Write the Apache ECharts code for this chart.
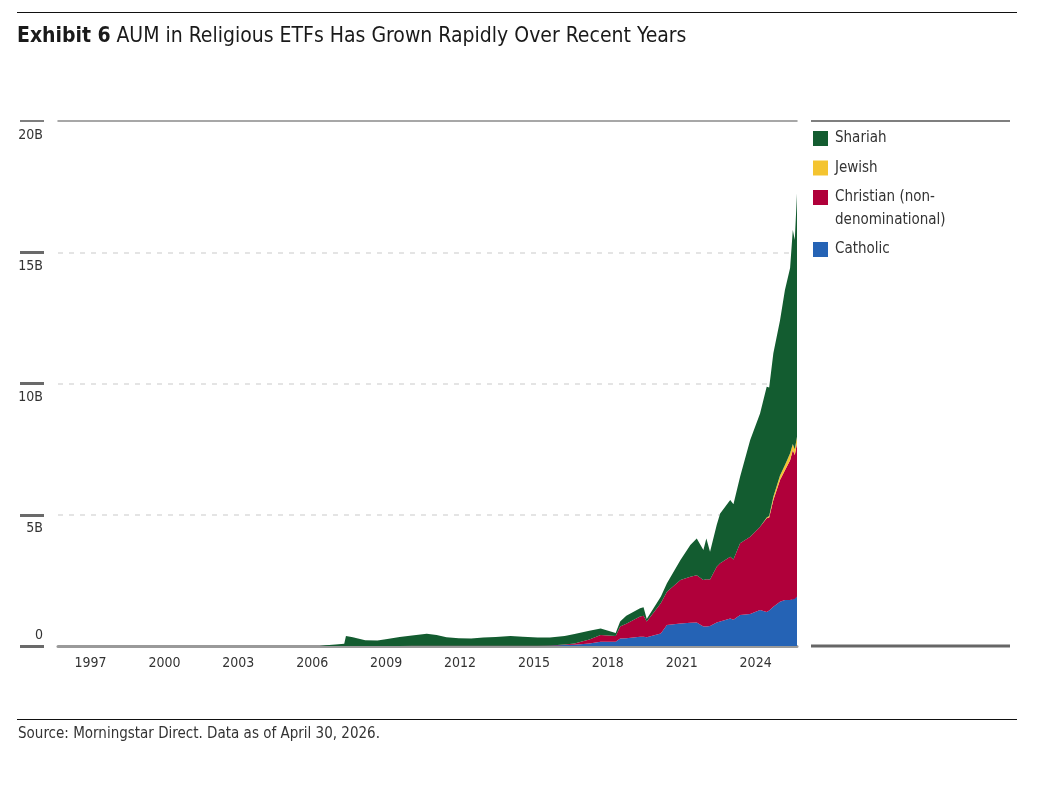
<!DOCTYPE html>
<html>
<head>
<meta charset="utf-8">
<script src="https://cdn.jsdelivr.net/npm/echarts@6/dist/echarts.min.js"></script>
<style>
  html, body { margin: 0; padding: 0; background: #fff; }
  #chart { width: 1058px; height: 789px; }
</style>
</head>
<body>
<div id="chart"></div>
<script>
const FONT = "'DejaVu Sans Condensed', 'Liberation Sans Narrow', 'Roboto', sans-serif";

// sample positions as decimal years
const dates = [1996.33, 2006.95, 2007.2, 2007.6, 2007.95, 2008.02, 2008.3, 2008.8, 2009.3, 2009.7,
  2010.2, 2010.7, 2011.3, 2011.7, 2012.1, 2012.6, 2013.1, 2013.6, 2014.1, 2014.7,
  2015.2, 2015.8, 2016.3, 2016.9, 2017.3, 2017.9, 2018.36, 2018.97, 2019.15, 2019.4,
  2019.96, 2020.1, 2020.23, 2020.8, 2021.05, 2021.6, 2022.0, 2022.26, 2022.53, 2022.65,
  2022.8, 2023.07, 2023.21, 2023.62, 2023.75, 2024.02, 2024.43, 2024.83, 2025.1, 2025.2,
  2025.37, 2025.64, 2025.84, 2026.05, 2026.16, 2026.24, 2026.33];

// AUM in billions
const catholic = [0, 0, 0, 0, 0, 0, 0, 0, 0, 0,
  0, 0, 0, 0, 0, 0, 0, 0, 0, 0,
  0, 0, 0.01, 0.04, 0.05, 0.10, 0.16, 0.16, 0.29, 0.30,
  0.35, 0.35, 0.33, 0.48, 0.80, 0.86, 0.89, 0.90, 0.74, 0.74,
  0.76, 0.90, 0.93, 1.05, 1.00, 1.18, 1.22, 1.37, 1.30, 1.35,
  1.50, 1.69, 1.75, 1.75, 1.80, 1.80, 1.88];
const christian = [0, 0, 0, 0, 0, 0, 0, 0, 0, 0,
  0, 0.01, 0.01, 0.01, 0.01, 0.01, 0.01, 0.01, 0.01, 0.01,
  0.01, 0.01, 0.01, 0.02, 0.05, 0.15, 0.26, 0.22, 0.45, 0.55,
  0.77, 0.80, 0.60, 1.15, 1.27, 1.65, 1.75, 1.80, 1.77, 1.80,
  1.77, 2.12, 2.22, 2.35, 2.30, 2.73, 2.94, 3.17, 3.57, 3.55,
  4.06, 4.63, 4.95, 5.33, 5.67, 5.48, 5.84];
const jewish = [0, 0, 0, 0, 0, 0, 0, 0, 0, 0,
  0, 0, 0, 0, 0, 0, 0, 0, 0, 0,
  0, 0, 0, 0, 0, 0, 0, 0, 0, 0,
  0, 0, 0, 0, 0, 0, 0, 0, 0, 0,
  0, 0, 0, 0, 0, 0, 0, 0, 0.03, 0.05,
  0.13, 0.18, 0.20, 0.26, 0.23, 0.22, 0.25];
const shariah = [0, 0, 0.03, 0.06, 0.09, 0.38, 0.33, 0.22, 0.21, 0.27,
  0.34, 0.39, 0.46, 0.41, 0.32, 0.29, 0.28, 0.31, 0.33, 0.37,
  0.34, 0.31, 0.30, 0.32, 0.36, 0.33, 0.25, 0.12, 0.19, 0.30,
  0.32, 0.33, 0.10, 0.25, 0.32, 0.77, 1.21, 1.40, 1.15, 1.56,
  1.06, 1.59, 1.90, 2.16, 2.10, 2.54, 3.69, 4.32, 4.98, 4.90,
  5.46, 5.90, 6.66, 7.06, 8.15, 7.97, 9.27];

const xLabelYears = [1997, 2000, 2003, 2006, 2009, 2012, 2015, 2018, 2021, 2024];
const yLabels = ['0', '5B', '10B', '15B', '20B'];

const CHRISTIAN = 'Christian (non-\ndenominational)';

// bottom of the stack first
const layers = [
  { name: 'Catholic', values: catholic, color: '#2563b5' },
  { name: CHRISTIAN, values: christian, color: '#b0003a' },
  { name: 'Jewish', values: jewish, color: '#f4c430' },
  { name: 'Shariah', values: shariah, color: '#135c30' }
];

const X_MIN = dates[0];
const X_MAX = dates[dates.length - 1];

const chart = echarts.init(document.getElementById('chart'));

const stubAxis = (ticks, width, color, withLabels) => ({
  type: 'value',
  position: 'left',
  offset: 14,
  min: 0,
  max: 20,
  interval: 5,
  axisLine: { show: false },
  axisTick: { show: true, customValues: ticks, length: 24, lineStyle: { color: color, width: width } },
  splitLine: { show: false },
  axisLabel: {
    show: withLabels,
    margin: 1,
    fontFamily: FONT,
    fontSize: 14,
    color: '#333',
    verticalAlign: 'middle',
    formatter: v => {
      const s = yLabels[v / 5];
      return v === 0 ? '{up|' + s + '}' : '{dn|' + s + '}';
    },
    rich: {
      up: { fontFamily: FONT, fontSize: 14, color: '#333', padding: [0, 0, 22, 0] },
      dn: { fontFamily: FONT, fontSize: 14, color: '#333', padding: [28, 0, 0, 0] }
    }
  }
});

const option = {
  animation: false,
  backgroundColor: '#fff',
  textStyle: { fontFamily: FONT },
  title: {
    left: 17,
    top: 26,
    padding: 0,
    text: '{b|Exhibit 6} {r|AUM in Religious ETFs Has Grown Rapidly Over Recent Years}',
    textStyle: {
      rich: {
        b: { fontFamily: FONT, fontSize: 21, fontWeight: 'bold', color: '#1a1a1a' },
        r: { fontFamily: FONT, fontSize: 21, fontWeight: 'normal', color: '#1a1a1a' }
      }
    }
  },
  legend: {
    orient: 'vertical',
    left: 813,
    top: 127.25,
    padding: 0,
    icon: 'rect',
    itemWidth: 15,
    itemHeight: 15,
    itemGap: 7,
    selectedMode: false,
    textStyle: {
      fontFamily: FONT, fontSize: 15, color: '#333', lineHeight: 22.5, height: 22.5,
      padding: [0, 0, 0, 2],
      rich: { t: { fontFamily: FONT, fontSize: 15, color: '#333', lineHeight: 22.5 } }
    },
    // two-line names are laid out from the top of the first line's box
    formatter: name => name.indexOf('\n') < 0
      ? name
      : name.split('\n').map(s => '{t|' + s + '}').join('\n'),
    data: [
      'Shariah',
      'Jewish',
      CHRISTIAN,
      { name: 'Catholic', textStyle: { padding: [3.75, 0, 3.75, 2] } }
    ]
  },
  grid: { left: 58, right: 261, top: 121, bottom: 143, containLabel: false },
  xAxis: [
    {
      type: 'value',
      min: X_MIN,
      max: X_MAX,
      axisLine: { onZero: false, lineStyle: { color: '#9a9a9a', width: 3 } },
      axisTick: { show: false },
      splitLine: { show: false },
      axisLabel: {
        customValues: xLabelYears,
        formatter: v => String(v),
        align: 'left',
        margin: 10,
        fontFamily: FONT,
        fontSize: 14,
        color: '#333'
      }
    },
    {
      type: 'value',
      position: 'top',
      min: X_MIN,
      max: X_MAX,
      axisLine: { onZero: false, lineStyle: { color: '#8a8a8a', width: 1.5 } },
      axisTick: { show: false },
      axisLabel: { show: false },
      splitLine: { show: false }
    }
  ],
  yAxis: [
    {
      type: 'value',
      min: 0,
      max: 20,
      interval: 5,
      axisLine: { show: false },
      axisTick: { show: false },
      axisLabel: { show: false },
      splitLine: {
        show: true,
        showMinLine: false,
        showMaxLine: false,
        lineStyle: { color: '#dcdcdc', width: 1.5, type: [5, 6] }
      }
    },
    stubAxis([0, 5, 10, 15], 3, '#6a6a6a', true),
    stubAxis([20], 1.5, '#555', false)
  ],
  // value sits in the first column so the stack adds up the AUM, not the dates
  series: layers.map(l => ({
    name: l.name,
    type: 'line',
    stack: 'aum',
    xAxisIndex: 0,
    yAxisIndex: 0,
    encode: { x: 1, y: 0 },
    symbol: 'none',
    color: l.color,
    lineStyle: { width: 0 },
    areaStyle: { color: l.color, opacity: 1 },
    emphasis: { disabled: true },
    data: dates.map((d, i) => [l.values[i], d])
  })),
  graphic: [
    { type: 'line', shape: { x1: 17, y1: 12.5, x2: 1017, y2: 12.5 }, style: { stroke: '#111', lineWidth: 1 } },
    { type: 'line', shape: { x1: 811, y1: 121, x2: 1010, y2: 121 }, style: { stroke: '#555', lineWidth: 1.5 } },
    { type: 'line', shape: { x1: 811, y1: 646, x2: 1010, y2: 646 }, style: { stroke: '#666', lineWidth: 3 } },
    { type: 'line', shape: { x1: 17, y1: 719.5, x2: 1017, y2: 719.5 }, style: { stroke: '#111', lineWidth: 1 } },
    {
      type: 'text', left: 18, top: 727,
      style: { text: 'Source: Morningstar Direct. Data as of April 30, 2026.', font: '15px ' + FONT, fill: '#333' }
    }
  ]
};

chart.setOption(option);
</script>
</body>
</html>
